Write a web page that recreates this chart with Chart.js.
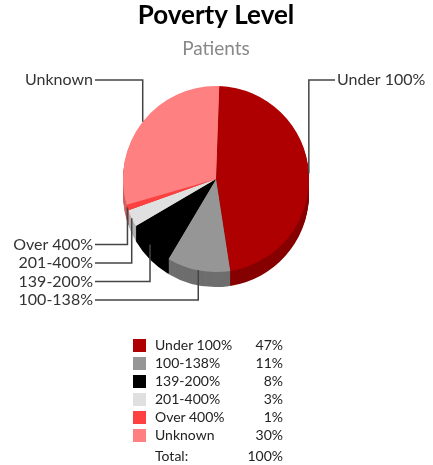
<!DOCTYPE html>
<html>
<head>
<meta charset="utf-8">
<script src="https://cdn.jsdelivr.net/npm/chart.js@4"></script>
<style>
  body { margin: 0; background: #fff; }
  #wrap { position: relative; width: 433px; height: 465px; }
  #legende { position: absolute; left: 133px; top: 336px; border-collapse: collapse;
             font-family: Lato, sans-serif; font-size: 14px; color: #222; }
  #legende td { padding: 0; height: 18px; line-height: 18px; }
  #legende .cor { width: 13px; }
  #legende .cor div { width: 13px; height: 13px; }
  #legende .nome { padding-left: 9px; width: 88px; }
  #legende .pct { text-align: right; width: 40px; }
  #legende tr.total td { height: 22px; line-height: 24px; }
</style>
</head>
<body>
<div id="wrap">
  <canvas id="graficoPobreza" width="433" height="465"></canvas>
  <table id="legende"></table>
</div>
<script>
const categorias = ['Under 100%', '100-138%', '139-200%', '201-400%', 'Over 400%', 'Unknown'];
const percentuais = [47, 11, 8, 3, 1, 30];

const coresTopo = ['#ae0000', '#969696', '#000000', '#e0e0e0', '#ff4040', '#ff8080'];
const coresLado = ['#860000', '#6e6e6e', '#000000', '#b4b4b4', '#c83030', '#d06464'];

const profundidade = 15;

// desenha a lateral 3D e os rotulos com linhas
const pizza3d = {
    id: 'pizza3d',
    beforeDatasetsDraw(chart) {
        const ctx = chart.ctx;
        const arcos = chart.getDatasetMeta(0).data;
        ctx.save();
        for (let d = profundidade; d >= 1; d--) {
            arcos.forEach((arco, i) => {
                const p = arco.getProps(['x', 'y', 'startAngle', 'endAngle', 'outerRadius'], true);
                ctx.beginPath();
                ctx.moveTo(p.x, p.y + d);
                ctx.arc(p.x, p.y + d, p.outerRadius, p.startAngle, p.endAngle);
                ctx.closePath();
                ctx.fillStyle = coresLado[i];
                ctx.fill();
            });
        }
        ctx.restore();
    },
    afterDatasetsDraw(chart) {
        const ctx = chart.ctx;
        const area = chart.chartArea;
        const arcos = chart.getDatasetMeta(0).data;
        const pontos = arcos.map((arco, i) => {
            const p = arco.getProps(['x', 'y', 'startAngle', 'endAngle', 'outerRadius'], true);
            const meio = (p.startAngle + p.endAngle) / 2;
            return {
                i: i,
                cx: p.x,
                cy: p.y,
                px: p.x + Math.cos(meio) * p.outerRadius,
                py: p.y + Math.sin(meio) * p.outerRadius
            };
        });

        pontos.filter(pt => pt.py < pt.cy).forEach(pt => { pt.ly = area.top - 6; });
        const baixo = pontos.filter(pt => pt.py >= pt.cy).sort((a, b) => b.py - a.py);
        baixo.forEach((pt, k) => { pt.ly = area.bottom + profundidade + 13 - k * 18.5; });

        ctx.save();
        ctx.strokeStyle = '#444';
        ctx.lineWidth = 1.5;
        ctx.font = '16px Lato, sans-serif';
        ctx.fillStyle = '#333';
        ctx.textBaseline = 'middle';
        pontos.forEach(pt => {
            const direita = pt.px > pt.cx;
            const lx = direita ? area.right + 26 : area.left - 28;
            ctx.beginPath();
            ctx.moveTo(pt.px, pt.py);
            ctx.lineTo(pt.px, pt.ly);
            ctx.lineTo(lx, pt.ly);
            ctx.stroke();
            ctx.textAlign = direita ? 'left' : 'right';
            ctx.fillText(categorias[pt.i], direita ? lx + 2 : lx - 2, pt.ly);
        });
        ctx.restore();
    }
};

const graficoPobreza = document.getElementById('graficoPobreza');
new Chart(graficoPobreza, {
    type: 'pie',
    data: {
        labels: categorias,
        datasets: [{
            data: percentuais,
            backgroundColor: coresTopo,
            borderWidth: 0
        }]
    },
    options: {
        responsive: false,
        animation: false,
        rotation: 2,
        layout: { padding: { left: 123, right: 124, top: 0, bottom: 193 } },
        plugins: {
            legend: { display: false },
            tooltip: { enabled: false },
            title: {
                display: true,
                text: 'Poverty Level',
                color: '#000',
                font: { family: 'Lato', size: 26, weight: 'bold' },
                padding: { top: 0, bottom: 6 }
            },
            subtitle: {
                display: true,
                text: 'Patients',
                color: '#888',
                font: { family: 'Lato', size: 19 },
                padding: { top: 0, bottom: 26 }
            }
        }
    },
    plugins: [pizza3d]
});

// legenda em tabela
const tabela = document.getElementById('legende');
categorias.forEach((nome, i) => {
    const linha = document.createElement('tr');
    linha.innerHTML = '<td class="cor"><div style="background:' + coresTopo[i] + '"></div></td>' +
        '<td class="nome">' + nome + '</td><td class="pct">' + percentuais[i] + '%</td>';
    tabela.appendChild(linha);
});
const total = percentuais.reduce((a, b) => a + b, 0);
const linhaTotal = document.createElement('tr');
linhaTotal.className = 'total';
linhaTotal.innerHTML = '<td class="cor"></td><td class="nome">Total:</td><td class="pct">' + total + '%</td>';
tabela.appendChild(linhaTotal);
</script>
</body>
</html>
